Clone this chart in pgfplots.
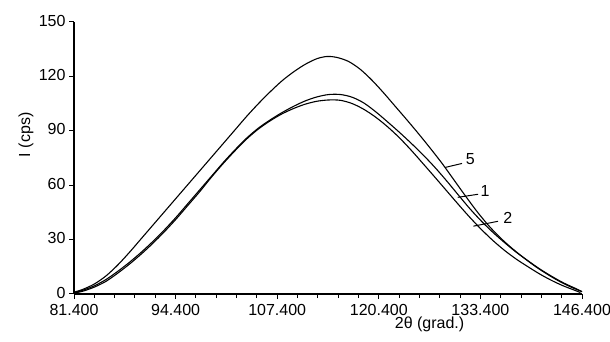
\documentclass[border=0pt]{standalone}
\usepackage{fontspec}
\setmainfont{Liberation Sans}
\usepackage{pgfplots}
\pgfplotsset{compat=1.18}
\begin{document}
\begin{tikzpicture}
\begin{axis}[
 scale only axis, width=508pt, height=272pt,
 xmin=81.4, xmax=146.4, ymin=0, ymax=150,
 axis x line=bottom, axis y line=left,
 axis line style={-, line width=1.2pt},
 tick align=outside,
 xtick={81.4,94.4,107.4,120.4,133.4,146.4},
 xticklabels={81.400,94.400,107.400,120.400,133.400,146.400},
 minor x tick num=4,
 ytick={0,30,60,90,120,150},
 yticklabels={0,30,60,90,120,150},
 major tick length=5pt, minor tick length=4pt,
 tick style={black, line width=1pt},
 ticklabel style={font=\fontsize{16}{19}\selectfont},
 x tick label style={yshift=-2pt},
 y tick label style={yshift=1.5pt},
 xlabel={2θ (grad.)}, ylabel={I (cps)},
 label style={font=\fontsize{16}{19}\selectfont},
 x label style={at={([yshift=-30pt]axis description cs:0.700,0)}, anchor=center},
 y label style={at={([xshift=-48pt]axis description cs:0,0.585)}, anchor=center},
 clip=false,
]
% curve 5
\addplot[black, line width=1.1pt, smooth, tension=0.5] coordinates {
(81.4,1.0) (82.5,2.5) (84,5.5) (85.5,10) (87,16) (88.5,23) (90,30.5) (91.5,38)
(93,45.5) (94.5,53) (96,60.5) (97.5,68) (99,75.5) (100.5,83) (102,90.5) (103.5,98)
(105,105) (106.5,111.5) (108,117.5) (109.5,122.5) (111,126.7) (112.5,129.8) (113.8,131)
(115,130.5) (116.5,128.3) (118,124) (119.5,118) (121,111) (122.5,103.5) (124,96)
(125.5,88.3) (127,80.3) (128.5,72) (130,63) (131.5,54) (133,45.3) (134.5,37.5)
(136,30.8) (137.5,25) (139,19.8) (140.5,15) (142,10.8) (143.5,7) (145,3.8) (146.4,1.3)};
% curve 1
\addplot[black, line width=1.1pt, smooth, tension=0.5] coordinates {
(81.4,0.8) (82.5,2) (84,4.5) (85.5,8) (87,12.5) (88.5,17.5) (90,23) (91.5,29)
(93,35.5) (94.5,42.5) (96,50) (97.5,57.5) (99,65) (100.5,72.5) (102,79.5) (103.5,86)
(105,91.5) (106.5,96) (108,100) (109.5,103.5) (111,106.5) (112.5,108.7) (114,110)
(115.5,110) (117,108.5) (118.5,105.3) (120,100.5) (121.5,95) (123,89.3) (124.5,83.3)
(126,77) (127.5,70.2) (129,62.8) (130.5,55) (132,47.3) (133.5,40.3) (135,34)
(136.5,28.3) (138,23) (139.5,18.3) (141,13.8) (142.5,9.8) (144,6.2) (145.5,3.2) (146.4,1.3)};
% curve 2
\addplot[black, line width=1.1pt, smooth, tension=0.5] coordinates {
(81.4,0.5) (82.5,1.5) (84,3.8) (85.5,7) (87,11.5) (88.5,16.5) (90,22) (91.5,28)
(93,34.5) (94.5,41.5) (96,49) (97.5,56.5) (99,64.5) (100.5,72) (102,79) (103.5,85.5)
(105,91) (106.5,95.5) (108,99.3) (109.5,102.3) (111,104.7) (112.5,106.3) (114,107)
(115.5,106.8) (117,105) (118.5,101.8) (120,97.5) (121.5,92.3) (123,86.3) (124.5,79.5)
(126,72.2) (127.5,64.8) (129,57.3) (130.5,49.8) (132,42.5) (133.5,35.7) (135,29.5)
(136.5,24) (138,19.2) (139.5,15) (141,11) (142.5,7.5) (144,4.5) (145.5,2) (146.2,0.8)};
% labels
\draw[line width=1pt] (axis cs:128.9,69.8) -- (axis cs:131.05,72);
\node[font=\fontsize{16}{19}\selectfont] at (axis cs:132.1,74.2) {5};
\draw[line width=1pt] (axis cs:130.5,53.3) -- (axis cs:133.1,55);
\node[font=\fontsize{16}{19}\selectfont] at (axis cs:134.0,56.6) {1};
\draw[line width=1pt] (axis cs:132.5,37.4) -- (axis cs:135.65,40.1);
\node[font=\fontsize{16}{19}\selectfont] at (axis cs:136.9,41.8) {2};
\end{axis}
\pgfresetboundingbox
\path ([shift={(-74pt,-47pt)}]current axis.south west) rectangle ([shift={(28pt,22pt)}]current axis.north east);
\end{tikzpicture}
\end{document}
